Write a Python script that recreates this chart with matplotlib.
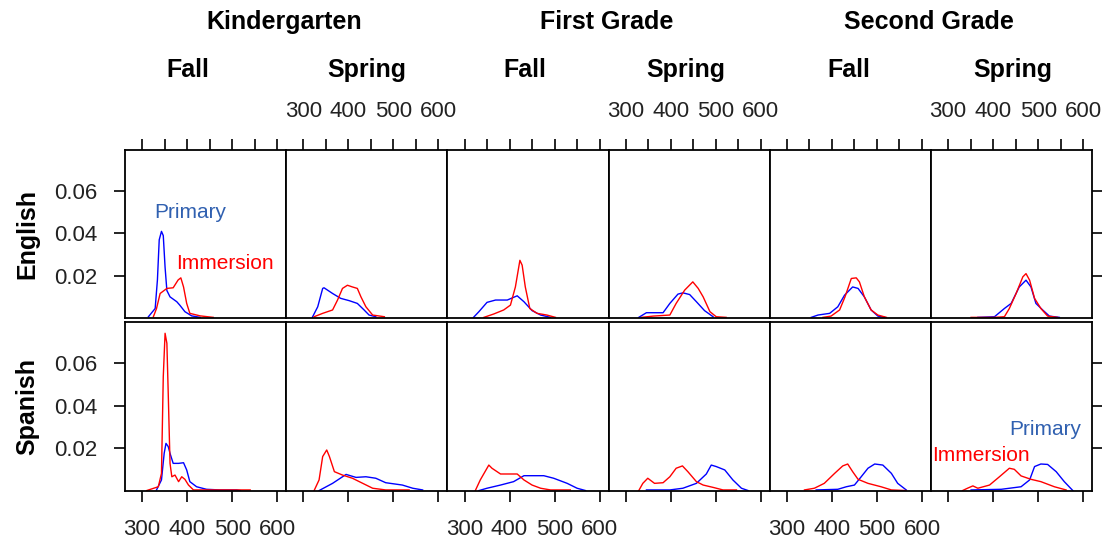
import matplotlib
matplotlib.use("Agg")
import matplotlib.pyplot as plt

plt.rcParams['font.family'] = ['Liberation Sans', 'DejaVu Sans']

# labels
grades = ["Kindergarten", "First Grade", "Second Grade"]
terms = ["Fall", "Spring", "Fall", "Spring", "Fall", "Spring"]
languages = ["English", "Spanish"]
x_ticks = [300, 400, 500, 600]
y_ticks = [0.02, 0.04, 0.06]

# density curves, one list per panel (6 columns)
eng_primary_x = [
    [314, 329, 334, 338, 343, 347, 351, 355, 362, 377, 384, 395, 410, 429],
    [320, 332, 343, 346, 365, 383, 402, 420, 435, 446, 461],
    [320, 332, 350, 369, 395, 417, 432, 450, 469, 491],
    [329, 346, 383, 398, 416, 427, 442, 457, 475, 494],
    [354, 369, 395, 413, 428, 446, 458, 472, 487, 502, 517],
    [366, 403, 425, 440, 458, 473, 484, 495, 510, 525, 547],
]
eng_primary_y = [
    [0.0006, 0.0045, 0.018, 0.037, 0.041, 0.039, 0.024, 0.013, 0.010, 0.0077, 0.006, 0.003, 0.001, 0.0003],
    [0.0003, 0.0053, 0.014, 0.0143, 0.0116, 0.0093, 0.0082, 0.0069, 0.0038, 0.0014, 0.0006],
    [0.0003, 0.003, 0.0074, 0.0085, 0.0085, 0.0105, 0.0077, 0.0035, 0.0014, 0.0003],
    [0.0003, 0.0025, 0.0025, 0.0069, 0.0113, 0.0119, 0.0111, 0.0077, 0.0035, 0.0006],
    [0.0003, 0.0014, 0.0022, 0.0053, 0.0108, 0.0147, 0.014, 0.010, 0.0038, 0.0009, 0.0003],
    [0.0003, 0.0006, 0.0045, 0.0069, 0.0147, 0.0179, 0.0147, 0.0069, 0.0038, 0.0009, 0.0003],
]
eng_immersion_x = [
    [325, 332, 340, 355, 369, 380, 386, 392, 399, 406, 429, 458],
    [324, 343, 365, 376, 387, 398, 409, 420, 428, 439, 454, 480],
    [343, 365, 387, 402, 413, 423, 428, 435, 445, 461, 483, 502],
    [335, 361, 398, 412, 431, 449, 461, 472, 487, 501, 523],
    [380, 398, 417, 429, 443, 454, 461, 472, 487, 502, 521],
    [351, 403, 425, 436, 451, 466, 473, 481, 492, 506, 521, 543],
]
eng_immersion_y = [
    [0.0006, 0.0045, 0.0116, 0.014, 0.0143, 0.018, 0.019, 0.0147, 0.0069, 0.0022, 0.001, 0.0003],
    [0.0006, 0.0022, 0.0038, 0.0085, 0.014, 0.0155, 0.0147, 0.014, 0.010, 0.0053, 0.0014, 0.0006],
    [0.0003, 0.0019, 0.0038, 0.0061, 0.0147, 0.0273, 0.025, 0.0147, 0.0045, 0.0022, 0.0014, 0.0003],
    [0.0003, 0.0009, 0.0014, 0.0069, 0.0132, 0.0171, 0.014, 0.010, 0.003, 0.0006, 0.0003],
    [0.0003, 0.0009, 0.0038, 0.010, 0.0187, 0.019, 0.0171, 0.010, 0.0038, 0.0014, 0.0003],
    [0.0003, 0.0003, 0.0006, 0.0045, 0.0116, 0.0195, 0.021, 0.0179, 0.0093, 0.0045, 0.0009, 0.0003],
]
spa_primary_x = [
    [332, 343, 349, 353, 358, 362, 369, 381, 392, 399, 406, 421, 443, 473, 510, 518],
    [335, 365, 395, 417, 439, 461, 483, 520, 543, 565],
    [332, 350, 380, 409, 432, 476, 498, 528, 550, 569],
    [346, 398, 427, 457, 479, 490, 501, 520, 538, 557, 572],
    [365, 413, 432, 450, 465, 480, 495, 513, 532, 546, 565],
    [351, 418, 462, 481, 492, 506, 521, 540, 558, 577],
]
spa_primary_y = [
    [0.0005, 0.0052, 0.0177, 0.0224, 0.0209, 0.0177, 0.013, 0.013, 0.0133, 0.0099, 0.0044, 0.002, 0.0008, 0.0005, 0.0005, 0.0002],
    [0.0002, 0.0036, 0.0078, 0.0064, 0.0067, 0.006, 0.0039, 0.0028, 0.0013, 0.0005],
    [0.0002, 0.0013, 0.0028, 0.0044, 0.0072, 0.0072, 0.006, 0.0036, 0.0013, 0.0002],
    [0.0005, 0.0005, 0.0013, 0.0036, 0.008, 0.0122, 0.0115, 0.0099, 0.0052, 0.0013, 0.0002],
    [0.0005, 0.0008, 0.002, 0.0028, 0.0067, 0.0107, 0.0127, 0.0122, 0.0083, 0.0036, 0.0005],
    [0.0005, 0.0008, 0.002, 0.0052, 0.0115, 0.0127, 0.0125, 0.0091, 0.0044, 0.0002],
]
spa_immersion_x = [
    [310, 336, 343, 347, 351, 355, 358, 362, 366, 373, 381, 388, 395, 403, 414, 451, 540],
    [324, 335, 343, 352, 358, 369, 387, 409, 432, 454, 483, 535],
    [324, 335, 354, 361, 380, 417, 432, 450, 469, 491, 535],
    [329, 338, 349, 364, 383, 398, 412, 426, 438, 457, 472, 494, 516, 546],
    [339, 361, 383, 406, 424, 435, 446, 458, 480, 509, 532, 565],
    [332, 343, 355, 366, 392, 414, 436, 447, 462, 484, 506, 536, 562],
]
spa_immersion_y = [
    [0.0002, 0.002, 0.0083, 0.0538, 0.0742, 0.0695, 0.046, 0.013, 0.0067, 0.0075, 0.0044, 0.0067, 0.0055, 0.0028, 0.0005, 0.0005, 0.0005],
    [0.0002, 0.0052, 0.0162, 0.0193, 0.0162, 0.0091, 0.0075, 0.006, 0.0036, 0.0013, 0.0005, 0.0005],
    [0.0002, 0.0052, 0.0122, 0.0107, 0.008, 0.008, 0.0052, 0.0028, 0.0013, 0.0005, 0.0005],
    [0.0002, 0.0036, 0.006, 0.0036, 0.0039, 0.0067, 0.0107, 0.0118, 0.0091, 0.0044, 0.0028, 0.0017, 0.0005, 0.0005],
    [0.0005, 0.0013, 0.0036, 0.0083, 0.0118, 0.0127, 0.0091, 0.0055, 0.0036, 0.002, 0.0005, 0.0002],
    [0.0002, 0.0013, 0.0024, 0.0013, 0.0028, 0.0067, 0.0107, 0.0102, 0.0071, 0.0055, 0.0044, 0.002, 0.0005],
]

W, H = 1102, 544
fig = plt.figure(figsize=(W / 100, H / 100), dpi=100)

blue = "#0000ff"
red = "#ff0000"
left_px, panel_w = 125, 161.2
rows_px = [(150, 318), (322, 491)]  # top, bottom of each row

data = [
    (eng_primary_x, eng_primary_y, eng_immersion_x, eng_immersion_y),
    (spa_primary_x, spa_primary_y, spa_immersion_x, spa_immersion_y),
]

axes = {}
for r in range(2):
    top, bot = rows_px[r]
    px, py, ix, iy = data[r]
    for c in range(6):
        ax = fig.add_axes([(left_px + c * panel_w) / W, 1 - bot / H,
                           panel_w / W, (bot - top) / H])
        axes[(r, c)] = ax
        ax.plot(px[c], py[c], color=blue, lw=1.0)
        ax.plot(ix[c], iy[c], color=red, lw=1.0)
        ax.set_xlim(262, 620)
        ax.set_ylim(0, 0.0795)
        for s in ax.spines.values():
            s.set_linewidth(1.3)
        ax.tick_params(direction='out', length=8, width=1.2, labelsize=16,
                       pad=12, colors='black', labelcolor='#222222')
        ax.tick_params(left=False, right=False, top=False, bottom=False,
                       labelleft=False, labelbottom=False, labeltop=False)
        ax.set_xticks(x_ticks)
        ax.set_yticks(y_ticks)

        if c == 0:
            ax.tick_params(left=True, labelleft=True)
            ax.set_yticklabels([f"{v:.2f}" for v in y_ticks])
        if c == 5:
            ax.tick_params(right=True)
        if r == 1:
            ax.tick_params(bottom=True, labelbottom=(c % 2 == 0))
        if r == 0:
            ax.tick_params(top=True, labeltop=(c % 2 == 1))
            ax.set_xticks([300, 350, 400, 450, 500, 550, 600], minor=True)
            ax.tick_params(which='minor', top=True, bottom=False,
                           direction='out', length=8, width=1.2)

# annotations
axes[(0, 0)].text(406, 0.0499, "Primary", color="#3060b0", fontsize=15,
                  ha='center', va='center', clip_on=False)
axes[(0, 0)].text(484, 0.0259, "Immersion", color=red, fontsize=15,
                  ha='center', va='center', clip_on=False)
axes[(1, 5)].text(515, 0.0287, "Primary", color="#3060b0", fontsize=15,
                  ha='center', va='center', clip_on=False)
axes[(1, 5)].text(373, 0.0169, "Immersion", color=red, fontsize=15,
                  ha='center', va='center', clip_on=False)

# strip labels
for g, name in enumerate(grades):
    xc = left_px + (2 * g + 1) * panel_w - 2
    fig.text(xc / W, 1 - 22 / H, name, ha='center', va='center',
             fontsize=18, fontweight='bold')
term_x = [188, 367, 525, 686, 849, 1013]
for t, name in enumerate(terms):
    fig.text(term_x[t] / W, 1 - 70 / H, name, ha='center', va='center',
             fontsize=18, fontweight='bold')
for r, name in enumerate(languages):
    yc = (rows_px[r][0] + rows_px[r][1]) / 2
    fig.text(27 / W, 1 - yc / H, name, ha='center', va='center',
             rotation=90, fontsize=18, fontweight='bold')

fig.savefig("out.png", dpi=100)
